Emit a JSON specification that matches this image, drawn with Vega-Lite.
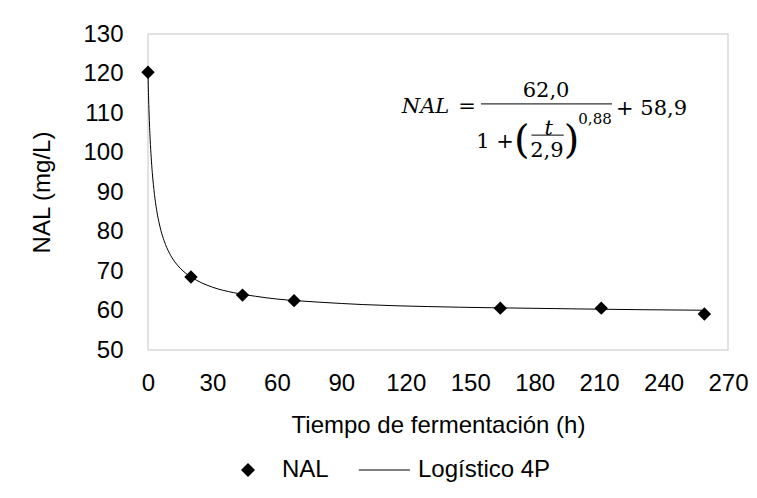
{
  "$schema": "https://vega.github.io/schema/vega-lite/v6.json",
  "width": 580,
  "height": 316,
  "autosize": {"type": "none"},
  "padding": {"left": 148, "top": 34, "right": 29, "bottom": 148},
  "background": "white",
  "config": {
    "view": {"stroke": "#d9d9d9", "strokeWidth": 1.5},
    "font": "Liberation Sans",
    "axis": {
      "labelFont": "Liberation Sans",
      "titleFont": "Liberation Sans",
      "labelFontSize": 24,
      "titleFontSize": 24,
      "titleFontWeight": "normal",
      "labelColor": "#000000",
      "titleColor": "#000000",
      "grid": false,
      "ticks": false,
      "tickSize": 0,
      "domain": false,
      "labelOverlap": false,
      "labelFlush": false
    }
  },
  "datasets": {
    "obs": [
      {"t": 0, "nal": 120.3, "serie": "NAL"},
      {"t": 20, "nal": 68.5, "serie": "NAL"},
      {"t": 44, "nal": 63.9, "serie": "NAL"},
      {"t": 68, "nal": 62.5, "serie": "NAL"},
      {"t": 164, "nal": 60.6, "serie": "NAL"},
      {"t": 211, "nal": 60.6, "serie": "NAL"},
      {"t": 259, "nal": 59.1, "serie": "NAL"}
    ],
    "fit": [
      {"t": 0, "nal": 120.9},
      {"t": 0.1, "nal": 117.85},
      {"t": 0.25, "nal": 114.5},
      {"t": 0.5, "nal": 110.0},
      {"t": 1, "nal": 103.4},
      {"t": 1.5, "nal": 98.65},
      {"t": 2, "nal": 94.9},
      {"t": 3, "nal": 89.4},
      {"t": 4, "nal": 85.5},
      {"t": 5, "nal": 82.6},
      {"t": 6, "nal": 80.3},
      {"t": 7.5, "nal": 77.65},
      {"t": 10, "nal": 74.5},
      {"t": 12.5, "nal": 72.3},
      {"t": 15, "nal": 70.7},
      {"t": 20, "nal": 68.5},
      {"t": 25, "nal": 67.0},
      {"t": 30, "nal": 65.9},
      {"t": 40, "nal": 64.5},
      {"t": 50, "nal": 63.6},
      {"t": 60, "nal": 62.9},
      {"t": 70, "nal": 62.45},
      {"t": 80, "nal": 62.1},
      {"t": 100, "nal": 61.5},
      {"t": 130, "nal": 61.0},
      {"t": 160, "nal": 60.7},
      {"t": 200, "nal": 60.4},
      {"t": 230, "nal": 60.2},
      {"t": 258, "nal": 60.07}
    ],
    "eqMain": [
      {"x": 148.5, "y": 111.4, "txt": "="},
      {"x": 185.3, "y": 115.6, "txt": "62,0"},
      {"x": 161.6, "y": 102.7, "txt": "1 +"},
      {"x": 185.7, "y": 100.3, "txt": "2,9"},
      {"x": 234.4, "y": 111.1, "txt": "+ 58,9"}
    ],
    "eqItalic": [
      {"x": 129.2, "y": 111.4, "txt": "NAL"},
      {"x": 186.5, "y": 106.0, "txt": "t"}
    ],
    "eqParen": [
      {"x": 174.0, "y": 103.0, "txt": "("},
      {"x": 197.2, "y": 103.0, "txt": ")"}
    ],
    "eqSup": [
      {"x": 208.1, "y": 108.5, "txt": "0,88"}
    ],
    "eqBars": [
      {"x": 155.0, "x2": 216.0, "y": 112.3},
      {"x": 178.5, "x2": 193.5, "y": 104.4}
    ]
  },
  "layer": [
    {
      "data": {"name": "fit"},
      "mark": {"type": "line", "color": "#000000", "strokeWidth": 1, "interpolate": "monotone"},
      "encoding": {
        "x": {
          "field": "t", "type": "quantitative",
          "scale": {"domain": [0, 270], "nice": false},
          "axis": {"values": [0, 30, 60, 90, 120, 150, 180, 210, 240, 270], "title": "Tiempo de fermentación (h)", "labelPadding": 21, "titlePadding": 18, "labelOverlap": false, "labelFlush": false}
        },
        "y": {
          "field": "nal", "type": "quantitative",
          "scale": {"domain": [50, 130], "nice": false, "zero": false},
          "axis": {"values": [50, 60, 70, 80, 90, 100, 110, 120, 130], "tickCount": 9, "title": "NAL (mg/L)", "labelPadding": 25, "titlePadding": 28, "labelOverlap": false, "labelBound": false}
        }
      }
    },
    {
      "data": {"name": "obs"},
      "mark": {"type": "point", "shape": "diamond", "filled": true, "color": "#000000", "size": 180, "opacity": 1},
      "encoding": {
        "x": {"field": "t", "type": "quantitative"},
        "y": {"field": "nal", "type": "quantitative"},
        "shape": {
          "field": "serie", "type": "nominal",
          "scale": {"domain": ["NAL", "Logístico 4P"], "range": ["diamond", "M-3.6,-0.08L3.7,-0.08L3.7,0.08L-3.6,0.08Z"]},
          "legend": {
            "title": null,
            "orient": "none",
            "direction": "horizontal",
            "legendX": 88,
            "legendY": 424,
            "labelFont": "Liberation Sans",
            "labelFontSize": 24,
            "labelColor": "#000000",
            "symbolSize": 196,
            "symbolFillColor": "#000000",
            "symbolStrokeColor": "#000000",
            "symbolStrokeWidth": 0,
            "symbolOpacity": 1,
            "labelOffset": 22,
            "columnPadding": 29,
            "encode": {
              "symbols": {
                "update": {
                  "fill": {"value": "#000000"},
                  "opacity": {"value": 1}
                }
              }
            }
          }
        }
      }
    },
    {
      "data": {"name": "eqBars"},
      "mark": {"type": "rule", "color": "#000000", "strokeWidth": 1},
      "encoding": {
        "x": {"field": "x", "type": "quantitative"},
        "x2": {"field": "x2"},
        "y": {"field": "y", "type": "quantitative"}
      }
    },
    {
      "data": {"name": "eqMain"},
      "mark": {"type": "text", "font": "DejaVu Serif", "fontSize": 21, "color": "#000000", "align": "center", "baseline": "middle"},
      "encoding": {
        "x": {"field": "x", "type": "quantitative"},
        "y": {"field": "y", "type": "quantitative"},
        "text": {"field": "txt"}
      }
    },
    {
      "data": {"name": "eqItalic"},
      "mark": {"type": "text", "font": "DejaVu Serif", "fontStyle": "italic", "fontSize": 21, "color": "#000000", "align": "center", "baseline": "middle"},
      "encoding": {
        "x": {"field": "x", "type": "quantitative"},
        "y": {"field": "y", "type": "quantitative"},
        "text": {"field": "txt"}
      }
    },
    {
      "data": {"name": "eqParen"},
      "mark": {"type": "text", "font": "DejaVu Serif", "fontSize": 40, "color": "#000000", "align": "center", "baseline": "middle"},
      "encoding": {
        "x": {"field": "x", "type": "quantitative"},
        "y": {"field": "y", "type": "quantitative"},
        "text": {"field": "txt"}
      }
    },
    {
      "data": {"name": "eqSup"},
      "mark": {"type": "text", "font": "DejaVu Serif", "fontSize": 15, "color": "#000000", "align": "center", "baseline": "middle"},
      "encoding": {
        "x": {"field": "x", "type": "quantitative"},
        "y": {"field": "y", "type": "quantitative"},
        "text": {"field": "txt"}
      }
    }
  ]
}
